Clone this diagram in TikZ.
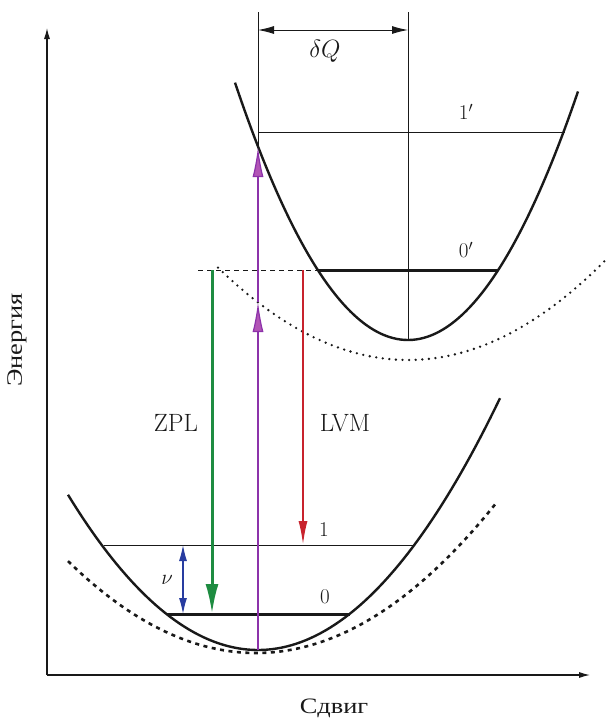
\RequirePackage{fix-cm}
\documentclass[tikz,border=0pt]{standalone}
\usepackage{fontspec}
\newfontfamily\cyrfont{Liberation Serif}
\usetikzlibrary{arrows.meta}
\definecolor{zplgreen}{RGB}{30,140,65}
\definecolor{lvmred}{RGB}{200,35,45}
\definecolor{absviolet}{RGB}{140,50,170}
\definecolor{absfill}{RGB}{178,85,182}
\definecolor{nublue}{RGB}{40,60,160}
\definecolor{ink}{RGB}{25,25,25}
\begin{document}
\begin{tikzpicture}[x=1pt,y=-1pt,
  curve/.style={line width=2.4pt,ink},
  dotcurve/.style={line width=2.6pt,ink,line cap=round,dash pattern=on 0pt off 6.6pt},
  dashcurve/.style={line width=2.6pt,ink,dash pattern=on 4pt off 4.5pt},
  thicklevel/.style={line width=3pt,ink},
  thinlevel/.style={line width=0.9pt,ink},
  guide/.style={line width=0.9pt,ink},
  axis/.style={line width=1.1pt,ink,-{Latex[length=11pt,width=6pt]}},
  lbl/.style={font=\fontsize{21}{25}\selectfont,inner sep=0pt,text=ink},
  biglbl/.style={font=\fontsize{25}{29}\selectfont,inner sep=0pt,text=ink},
  cyrlbl/.style={font=\cyrfont\fontsize{22}{26}\selectfont,inner sep=0pt,text=ink}
]
\useasboundingbox (0,0) rectangle (611,718);

% axes
\coordinate (O) at (47,675);
\coordinate (ytop) at (47,28);
\coordinate (xend) at (590,675);
\draw[axis] (O) -- (ytop);
\draw[axis] (O) -- (xend);

% curves
\draw[dotcurve,domain=218:607,samples=90] plot (\x,{360-25.6*((\x-408)/100)^2});
\draw[dashcurve,domain=68:497,samples=90] plot (\x,{653-26*((\x-256)/100)^2});
\draw[curve,domain=235:578,samples=90] plot (\x,{340-86*((\x-408)/100)^2});
\draw[curve,domain=68:500,samples=90] plot (\x,{650-43*((\x-258)/100)^2});

% named points
\coordinate (lv0L) at (167,614); \coordinate (lv0R) at (350,614);
\coordinate (lv1L) at (104,545); \coordinate (lv1R) at (414,545);
\coordinate (up0L) at (318,270); \coordinate (up0R) at (498,270);
\coordinate (up1L) at (258,132); \coordinate (up1R) at (565,132);
\coordinate (dashL) at (198,270);
\coordinate (vA) at (258,12); \coordinate (vB) at (408,12); \coordinate (vBbot) at (408,340);
\coordinate (dqA) at (258,30); \coordinate (dqB) at (408,30);
\coordinate (abs0) at (258,650); \coordinate (absM) at (258,302); \coordinate (abs1) at (258,147);
\coordinate (zplTop) at (212,270); \coordinate (zplBot) at (212,614);
\coordinate (lvmTop) at (303,270); \coordinate (lvmBot) at (303,545);
\coordinate (nuTop) at (183,545); \coordinate (nuBot) at (183,614);

% levels
\draw[thicklevel] (lv0L) -- (lv0R);
\draw[thinlevel] (lv1L) -- (lv1R);
\draw[thicklevel] (up0L) -- (up0R);
\draw[thinlevel] (up1L) -- (up1R);
\draw[guide,dash pattern=on 5pt off 4pt] (dashL) -- (up0L);

% guide verticals and delta Q
\draw[guide] (vA) -- (abs1);
\draw[guide] (vB) -- (vBbot);
\draw[guide,{Latex[length=16pt,width=8pt]}-{Latex[length=16pt,width=8pt]}] (dqA) -- (dqB);

% transitions
\draw[line width=1.2pt,absviolet,-{Latex[length=30pt,width=11pt,fill=absfill]}] (abs0) -- (absM);
\draw[line width=1.2pt,absviolet,-{Latex[length=30pt,width=11pt,fill=absfill]}] (absM) -- (abs1);
\draw[line width=3pt,zplgreen,-{Latex[length=30pt,width=13pt]}] (zplTop) -- (zplBot);
\draw[line width=2pt,lvmred,-{Latex[length=24pt,width=9pt]}] (lvmTop) -- (lvmBot);
\draw[line width=1.1pt,nublue,{Latex[length=16pt,width=8pt]}-{Latex[length=16pt,width=8pt]}] (nuTop) -- (nuBot);

% labels
\node[biglbl] (dqlbl) at (325,51) {$\delta Q$};
\node[lbl] (l1p) at (466,112) {$1'$};
\node[lbl] (l0p) at (466,250) {$0'$};
\node[lbl] (l1) at (324,530) {$1$};
\node[lbl] (l0) at (325,597) {$0$};
\node[lbl] (nulbl) at (167,580) {$\nu$};
\node[biglbl] (zpl) at (176,423) {ZPL};
\node[biglbl] (lvm) at (345,423) {LVM};
\node[cyrlbl,rotate=90] (energy) at (17,340) {\scalebox{1.2}[1]{Энергия}};
\node[cyrlbl] (shift) at (334,708) {\scalebox{1.2}[1]{Сдвиг}};
\end{tikzpicture}
\end{document}
